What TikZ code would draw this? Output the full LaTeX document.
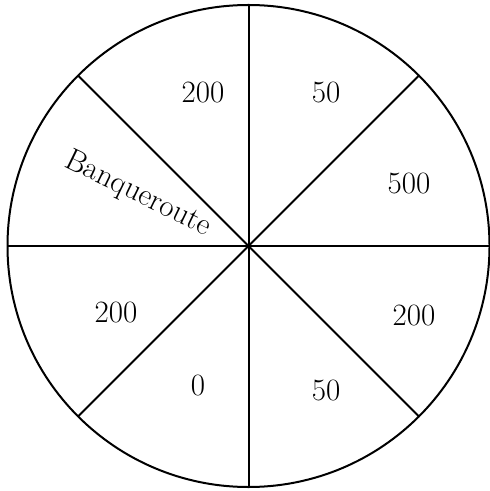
\documentclass[tikz,border=0pt]{standalone}
\usepackage{tikz}
\usetikzlibrary{positioning, calc}

\begin{document}
\begin{tikzpicture}[x=0.5pt, y=-0.5pt]

\useasboundingbox (0,0) rectangle (489,491);

\tikzset{
    spoke/.style={line width=1pt},
    val/.style={font=\fontsize{15.5}{18}\selectfont, inner sep=0pt}
}

\coordinate (c) at (248.5, 246);
\draw[spoke] (c) circle (241);

\foreach \a in {0,45,...,315} {
    \coordinate (r\a) at ($(c)+(\a:241)$);
    \draw[spoke] (c) -- (r\a);
}

\node[val] (s1) at (203, 93) {200};
\node[val] (s2) at (326, 93) {50};
\node[val] (s3) at (409, 184) {500};
\node[val] (s4) at (414, 316) {200};
\node[val] (s5) at (326, 390) {50};
\node[val] (s6) at (198, 385) {0};
\node[val] (s7) at (116, 313) {200};
\node[val, rotate=-26] (s8) at (138, 194) {Banqueroute};

\end{tikzpicture}
\end{document}
